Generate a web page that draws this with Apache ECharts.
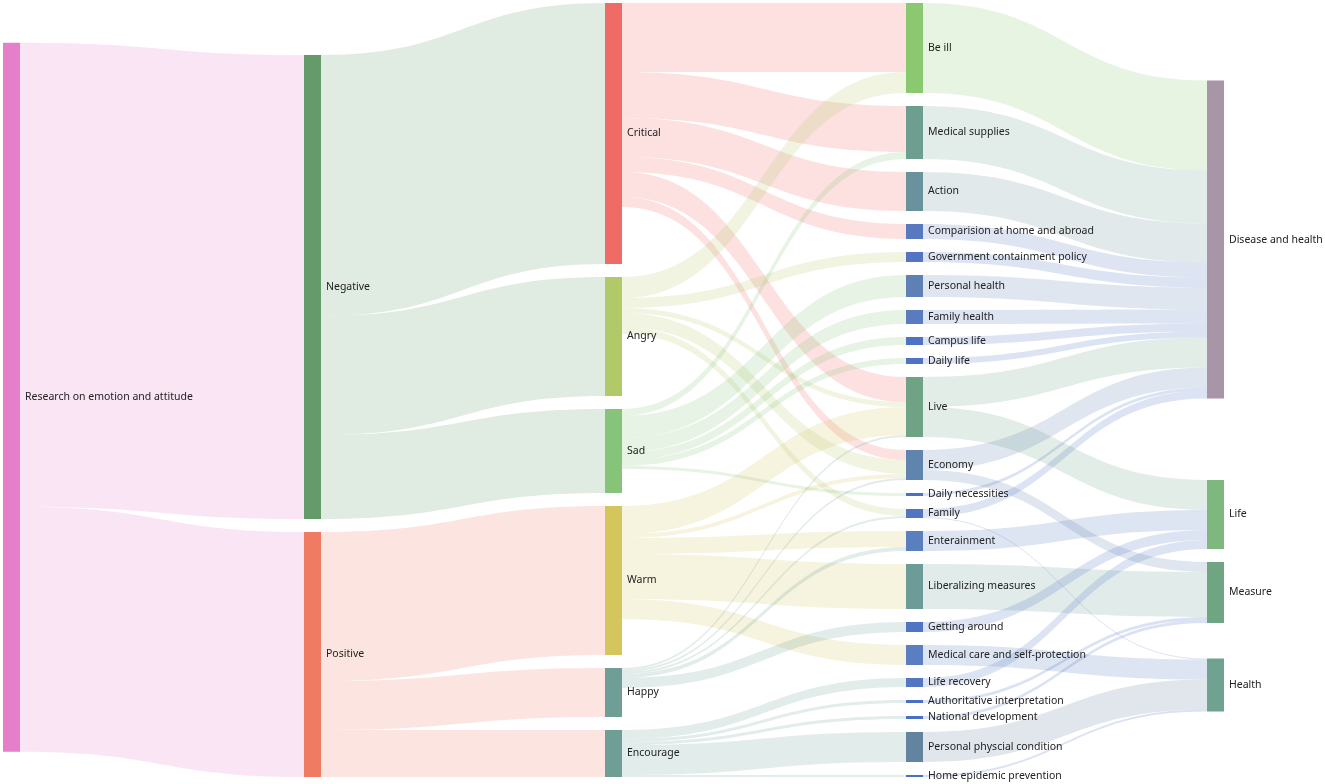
<!DOCTYPE html>
<html><head><meta charset="utf-8">
<script src="https://cdn.jsdelivr.net/npm/echarts@6/dist/echarts.min.js"></script>
<style>html,body{margin:0;padding:0;background:#fff}#c{width:1325px;height:784px}</style>
</head><body><div id="c"></div>
<script>
// ---- data ----
const level0 = ['Research on emotion and attitude'];
const level1 = ['Negative', 'Positive'];
const level2 = ['Critical', 'Angry', 'Sad', 'Warm', 'Happy', 'Encourage'];
const level3 = ['Be ill', 'Medical supplies', 'Action', 'Comparision at home and abroad',
  'Government containment policy', 'Personal health', 'Family health', 'Campus life', 'Daily life',
  'Live', 'Daily necessities', 'Economy', 'Family', 'Enterainment', 'Liberalizing measures',
  'Getting around', 'Medical care and self-protection', 'Life recovery', 'Authoritative interpretation',
  'National development', 'Personal physcial condition', 'Home epidemic prevention'];
const level4 = ['Disease and health', 'Life', 'Measure', 'Health'];

const flows01 = [
  ['Research on emotion and attitude', 'Negative', 464],
  ['Research on emotion and attitude', 'Positive', 245]
];
const flows12 = [
  ['Negative', 'Critical', 261], ['Negative', 'Angry', 119], ['Negative', 'Sad', 84],
  ['Positive', 'Warm', 149], ['Positive', 'Happy', 49], ['Positive', 'Encourage', 47]
];
const flows23 = [
  ['Critical', 'Be ill', 69], ['Critical', 'Medical supplies', 46], ['Critical', 'Action', 39],
  ['Critical', 'Comparision at home and abroad', 15], ['Critical', 'Live', 25], ['Critical', 'Economy', 10],
  ['Angry', 'Be ill', 21], ['Angry', 'Government containment policy', 10], ['Angry', 'Live', 5],
  ['Angry', 'Economy', 14], ['Angry', 'Family', 7],
  ['Sad', 'Medical supplies', 7], ['Sad', 'Personal health', 22], ['Sad', 'Family health', 14],
  ['Sad', 'Campus life', 8], ['Sad', 'Daily life', 6], ['Sad', 'Daily necessities', 3],
  ['Warm', 'Live', 28], ['Warm', 'Economy', 4], ['Warm', 'Enterainment', 16],
  ['Warm', 'Liberalizing measures', 45], ['Warm', 'Medical care and self-protection', 20],
  ['Happy', 'Live', 2], ['Happy', 'Economy', 2], ['Happy', 'Family', 2], ['Happy', 'Enterainment', 4],
  ['Happy', 'Getting around', 10],
  ['Encourage', 'Life recovery', 9], ['Encourage', 'Authoritative interpretation', 3],
  ['Encourage', 'National development', 3], ['Encourage', 'Personal physcial condition', 30],
  ['Encourage', 'Home epidemic prevention', 2]
];
const flows34 = [
  ['Be ill', 'Disease and health', 90], ['Medical supplies', 'Disease and health', 53],
  ['Action', 'Disease and health', 39], ['Comparision at home and abroad', 'Disease and health', 15],
  ['Government containment policy', 'Disease and health', 10], ['Personal health', 'Disease and health', 22],
  ['Family health', 'Disease and health', 14], ['Campus life', 'Disease and health', 8],
  ['Daily life', 'Disease and health', 6], ['Live', 'Disease and health', 30], ['Live', 'Life', 30],
  ['Daily necessities', 'Disease and health', 3], ['Economy', 'Disease and health', 20],
  ['Economy', 'Measure', 10], ['Family', 'Disease and health', 8], ['Family', 'Health', 1],
  ['Enterainment', 'Life', 20], ['Liberalizing measures', 'Measure', 45], ['Getting around', 'Life', 10],
  ['Medical care and self-protection', 'Health', 20], ['Life recovery', 'Life', 9],
  ['Authoritative interpretation', 'Measure', 3], ['National development', 'Measure', 3],
  ['Personal physcial condition', 'Health', 30], ['Home epidemic prevention', 'Health', 2]
];

// ---- styles ----
const nodeColors = {
  'Research on emotion and attitude': '#e67fc9',
  'Negative': '#659a6a', 'Positive': '#ef7b62',
  'Critical': '#ef6b66', 'Angry': '#b2c96a', 'Sad': '#86c47a', 'Warm': '#d4c55c',
  'Happy': '#6e9e96', 'Encourage': '#6e9e96',
  'Be ill': '#8bc970', 'Medical supplies': '#6d9e8f', 'Action': '#6a929c',
  'Comparision at home and abroad': '#5878c0', 'Government containment policy': '#5274c2',
  'Personal health': '#5f80b5', 'Family health': '#5a7bc0', 'Campus life': '#4f72c4',
  'Daily life': '#4f72c4', 'Live': '#6fa386', 'Daily necessities': '#4a6fc6',
  'Economy': '#5f84ad', 'Family': '#5275c2', 'Enterainment': '#5a7fbf',
  'Liberalizing measures': '#6b9c98', 'Getting around': '#4f74c4',
  'Medical care and self-protection': '#5a7fc0', 'Life recovery': '#5276c2',
  'Authoritative interpretation': '#4a6fc6', 'National development': '#4a6fc6',
  'Personal physcial condition': '#62849f', 'Home epidemic prevention': '#4a6fc6',
  'Disease and health': '#a895a8', 'Life': '#7fb87f', 'Measure': '#6fa582', 'Health': '#6fa290'
};

const allNodes = [].concat(level0, level1, level2, level3, level4);
const nodes = allNodes.map(n => ({ name: n, itemStyle: { color: nodeColors[n] } }));
const links = [].concat(flows01, flows12, flows23, flows34).map(f => ({ source: f[0], target: f[1], value: f[2] }));

const chart = echarts.init(document.getElementById('c'), null, { renderer: 'canvas' });
chart.setOption({
  backgroundColor: '#ffffff',
  animation: false,
  series: [{
    type: 'sankey',
    left: 3, right: 101, top: 3, bottom: 7,
    nodeWidth: 17,
    nodeGap: 13,
    layoutIterations: 100,
    draggable: false,
    emphasis: { disabled: true },
    data: nodes,
    links: links,
    itemStyle: { borderWidth: 0 },
    label: { position: 'right', distance: 5, fontSize: 10.5, color: '#222', fontFamily: 'Noto Sans' },
    lineStyle: { color: 'source', opacity: 0.2, curveness: 0.5 }
  }]
});
</script></body></html>
